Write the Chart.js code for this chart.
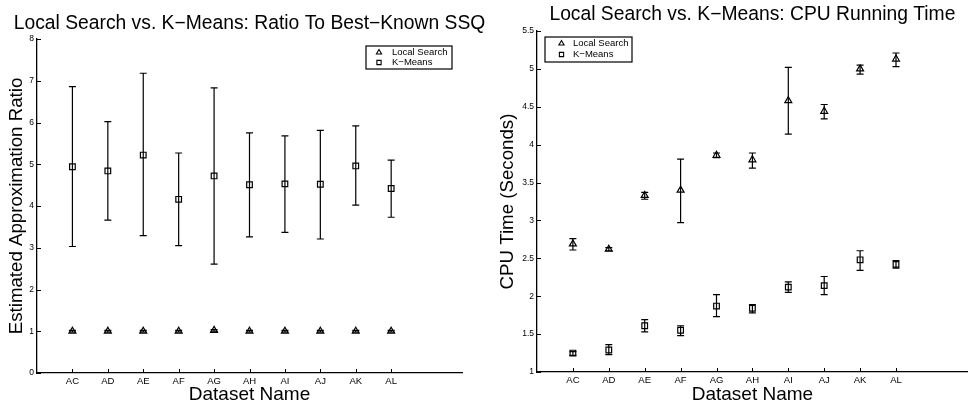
<!DOCTYPE html>
<html><head><meta charset="utf-8">
<script src="https://cdn.jsdelivr.net/npm/chart.js@4.4.1/dist/chart.umd.min.js"></script>
<style>
html,body{margin:0;padding:0;background:#fff;}
#wrap{position:relative;width:973px;height:413px;overflow:hidden;}
#c1{position:absolute;left:0;top:0;}
#c2{position:absolute;left:486px;top:0;}
</style></head><body>
<div id="wrap"><canvas id="c1" width="486" height="413"></canvas><canvas id="c2" width="487" height="413"></canvas></div>
<script>
const categories = ['AC','AD','AE','AF','AG','AH','AI','AJ','AK','AL'];
const seriesNames = ['Local Search', 'K\u2212Means'];

// Chart 1: ratio to best-known SSQ
const ratioLocal     = [1.00, 1.00, 1.00, 1.00, 1.02, 1.00, 1.00, 1.00, 1.00, 1.00];
const ratioLocalHigh = [1.02, 1.02, 1.02, 1.02, 1.04, 1.02, 1.02, 1.02, 1.02, 1.02];
const ratioLocalLow  = [0.98, 0.98, 0.98, 0.98, 1.00, 0.98, 0.98, 0.98, 0.98, 0.98];
const ratioKMeans     = [4.94, 4.84, 5.22, 4.16, 4.72, 4.51, 4.53, 4.52, 4.96, 4.42];
const ratioKMeansHigh = [6.86, 6.02, 7.18, 5.27, 6.83, 5.75, 5.68, 5.81, 5.92, 5.10];
const ratioKMeansLow  = [3.03, 3.66, 3.29, 3.05, 2.61, 3.26, 3.37, 3.21, 4.02, 3.73];
const ratioTicks = [0, 1, 2, 3, 4, 5, 6, 7, 8];

// Chart 2: CPU running time
const cpuLocal     = [2.69, 2.62, 3.33, 3.40, 3.86, 3.80, 4.58, 4.44, 5.00, 5.13];
const cpuLocalHigh = [2.76, 2.64, 3.37, 3.81, 3.89, 3.89, 5.02, 4.53, 5.05, 5.21];
const cpuLocalLow  = [2.61, 2.60, 3.28, 2.97, 3.83, 3.69, 4.14, 4.34, 4.93, 5.03];
const cpuKMeans     = [1.25, 1.29, 1.61, 1.55, 1.87, 1.84, 2.12, 2.14, 2.48, 2.42];
const cpuKMeansHigh = [1.27, 1.36, 1.69, 1.61, 2.02, 1.89, 2.19, 2.26, 2.60, 2.47];
const cpuKMeansLow  = [1.22, 1.23, 1.53, 1.48, 1.73, 1.78, 2.05, 2.02, 2.34, 2.37];
const cpuTicks = [1, 1.5, 2, 2.5, 3, 3.5, 4, 4.5, 5, 5.5];

const FONT = '"Liberation Sans", Arial, Helvetica, sans-serif';
Chart.defaults.font.family = FONT;
Chart.defaults.color = '#000';

const toPoints = vals => vals.map((v, i) => ({x: i + 1, y: v}));

const errorBarPlugin = {
  id: 'errorBars',
  beforeDatasetsDraw(chart) {
    const ctx = chart.ctx, xs = chart.scales.x, ys = chart.scales.y;
    ctx.save();
    ctx.strokeStyle = '#000';
    ctx.lineWidth = 1.2;
    chart.data.datasets.forEach(ds => {
      if (!ds.errHigh) return;
      ds.data.forEach((p, i) => {
        const x = xs.getPixelForValue(p.x);
        const yh = ys.getPixelForValue(ds.errHigh[i]);
        const yl = ys.getPixelForValue(ds.errLow[i]);
        const cw = 3.5;
        ctx.beginPath();
        ctx.moveTo(x, yh); ctx.lineTo(x, yl);
        ctx.moveTo(x - cw, yh); ctx.lineTo(x + cw, yh);
        ctx.moveTo(x - cw, yl); ctx.lineTo(x + cw, yl);
        ctx.stroke();
      });
    });
    ctx.restore();
  }
};

const inwardTicksPlugin = {
  id: 'inwardTicks',
  afterDraw(chart) {
    const ctx = chart.ctx, xs = chart.scales.x, ys = chart.scales.y, a = chart.chartArea;
    ctx.save();
    ctx.strokeStyle = '#000';
    ctx.lineWidth = 1;
    ctx.beginPath();
    xs.ticks.forEach(t => {
      const x = Math.round(xs.getPixelForValue(t.value)) + 0.5;
      ctx.moveTo(x, a.bottom); ctx.lineTo(x, a.bottom - 4);
    });
    ys.ticks.forEach(t => {
      const y = Math.round(ys.getPixelForValue(t.value)) + 0.5;
      ctx.moveTo(a.left, y); ctx.lineTo(a.left + 4, y);
    });
    ctx.stroke();
    ctx.restore();
  }
};

const centerTitlePlugin = {
  id: 'centerTitle',
  afterDraw(chart, args, opts) {
    if (!opts || !opts.text) return;
    const ctx = chart.ctx, a = chart.chartArea;
    ctx.save();
    ctx.font = opts.size + 'px ' + FONT;
    ctx.fillStyle = '#000';
    ctx.textAlign = 'center';
    ctx.textBaseline = 'middle';
    ctx.fillText(opts.text, (a.left + a.right) / 2, opts.y);
    ctx.restore();
  }
};

const boxLegendPlugin = {
  id: 'boxLegend',
  afterDraw(chart, args, opts) {
    if (!opts || !opts.box) return;
    const ctx = chart.ctx, b = opts.box;
    ctx.save();
    ctx.strokeStyle = '#000';
    ctx.lineWidth = 1.2;
    ctx.fillStyle = '#fff';
    ctx.fillRect(b.x, b.y, b.w, b.h);
    ctx.strokeRect(b.x, b.y, b.w, b.h);
    ctx.font = '9.5px ' + FONT;
    ctx.textBaseline = 'middle';
    ctx.textAlign = 'left';
    chart.data.datasets.forEach((ds, i) => {
      const y = b.y + b.rowTop + i * b.rowGap;
      ctx.fillStyle = 'rgba(0,0,0,0)';
      ctx.strokeStyle = '#000';
      ctx.lineWidth = 1.1;
      Chart.helpers.drawPoint(ctx, {pointStyle: ds.pointStyle, radius: 3, borderWidth: 1.1, rotation: 0}, b.x + b.markerX, y);
      ctx.fillStyle = '#000';
      ctx.fillText(ds.label, b.x + b.textX, y);
    });
    ctx.restore();
  }
};

function makeDataset(label, style, vals, hi, lo) {
  return {
    label: label,
    data: toPoints(vals),
    errHigh: hi,
    errLow: lo,
    pointStyle: style,
    pointRadius: 4,
    pointBorderWidth: 1.2,
    pointBorderColor: '#000',
    pointBackgroundColor: 'rgba(0,0,0,0)',
    showLine: false
  };
}

function makeOptions(cfg) {
  return {
    responsive: false,
    animation: false,
    events: [],
    layout: {padding: {left: 0, right: cfg.padRight, top: cfg.padTop, bottom: 0}},
    plugins: {
      legend: {display: false},
      tooltip: {enabled: false},
      title: {display: false},
      centerTitle: {text: cfg.title, y: cfg.titleY, size: 19.3},
      boxLegend: {box: cfg.legendBox}
    },
    scales: {
      x: {
        type: 'linear', min: 0, max: 12,
        afterBuildTicks: s => { s.ticks = categories.map((c, i) => ({value: i + 1})); },
        afterFit: s => { s.height = cfg.xHeight; },
        ticks: {
          autoSkip: false, maxRotation: 0, padding: 3,
          font: {size: 9.5}, color: '#000',
          callback: (v) => categories[Math.round(v) - 1] || ''
        },
        grid: {display: false, drawTicks: false},
        border: {display: true, color: '#000', width: 1.3},
        title: {display: true, text: 'Dataset Name', color: '#000', font: {size: 19}, padding: {top: 0, bottom: 7}}
      },
      y: {
        min: cfg.yTicks[0], max: cfg.yTicks[cfg.yTicks.length - 1],
        afterBuildTicks: s => { s.ticks = cfg.yTicks.map(v => ({value: v})); },
        afterFit: s => { s.width = cfg.yWidth; },
        ticks: {padding: 3, font: {size: 8.5}, color: '#000', callback: v => String(v)},
        grid: {display: false, drawTicks: false},
        border: {display: true, color: '#000', width: 1.3},
        title: {display: true, text: cfg.yTitle, color: '#000', font: {size: cfg.yTitleSize}, padding: {top: cfg.yTitlePad, bottom: 0}}
      }
    }
  };
}

new Chart(document.getElementById('c1'), {
  type: 'scatter',
  data: {datasets: [
    makeDataset(seriesNames[0], 'triangle', ratioLocal, ratioLocalHigh, ratioLocalLow),
    makeDataset(seriesNames[1], 'rect', ratioKMeans, ratioKMeansHigh, ratioKMeansLow)
  ]},
  options: makeOptions({
    title: 'Local Search vs. K\u2212Means: Ratio To Best\u2212Known SSQ', titleY: 24,
    padTop: 39, padRight: 24, xHeight: 40, yWidth: 37, yTitlePad: 6, yTitleSize: 18.7,
    yTicks: ratioTicks, yTitle: 'Estimated Approximation Ratio',
    legendBox: {x: 366, y: 46, w: 86, h: 23, rowTop: 6.5, rowGap: 10, markerX: 13, textX: 26}
  }),
  plugins: [errorBarPlugin, inwardTicksPlugin, centerTitlePlugin, boxLegendPlugin]
});

new Chart(document.getElementById('c2'), {
  type: 'scatter',
  data: {datasets: [
    makeDataset(seriesNames[0], 'triangle', cpuLocal, cpuLocalHigh, cpuLocalLow),
    makeDataset(seriesNames[1], 'rect', cpuKMeans, cpuKMeansHigh, cpuKMeansLow)
  ]},
  options: makeOptions({
    title: 'Local Search vs. K\u2212Means: CPU Running Time', titleY: 15,
    padTop: 31, padRight: 1, xHeight: 41, yWidth: 51, yTitlePad: 10.5, yTitleSize: 18.7,
    yTicks: cpuTicks, yTitle: 'CPU Time (Seconds)',
    legendBox: {x: 59, y: 37, w: 87, h: 25, rowTop: 6.5, rowGap: 11, markerX: 16.5, textX: 28}
  }),
  plugins: [errorBarPlugin, inwardTicksPlugin, centerTitlePlugin, boxLegendPlugin]
});
</script>
</body></html>
